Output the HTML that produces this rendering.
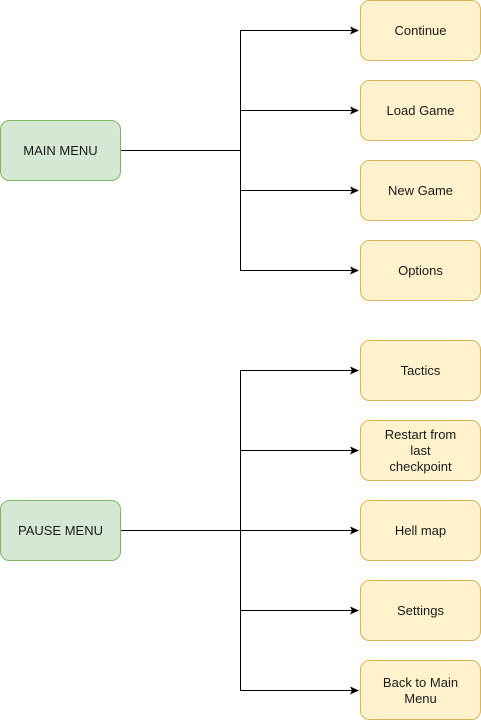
<!DOCTYPE html>
<html><head><meta charset="utf-8"><style>html,body{margin:0;padding:0;background:#fff}svg{display:block}</style></head>
<body>
<svg width="481" height="721" viewBox="0 0 481 721" xmlns="http://www.w3.org/2000/svg" font-family="Liberation Sans, Arial, sans-serif" font-size="13">
<defs><marker id="a" markerWidth="10" markerHeight="10" refX="8" refY="4" orient="auto" markerUnits="userSpaceOnUse"><path d="M0,0 L9,4 L0,8 L2,4 Z" fill="#000"/></marker></defs>
<g stroke="#000" stroke-width="1" fill="none">
<path d="M120.5,150.5 H240.5 V30.5 H358" marker-end="url(#a)"/>
<path d="M240.5,150.5 V110.5 H358" marker-end="url(#a)"/>
<path d="M240.5,150.5 V190.5 H358" marker-end="url(#a)"/>
<path d="M240.5,150.5 V270.5 H358" marker-end="url(#a)"/>
<path d="M120.5,530.5 H240.5 V370.5 H358" marker-end="url(#a)"/>
<path d="M240.5,530.5 V450.5 H358" marker-end="url(#a)"/>
<path d="M240.5,530.5 H358" marker-end="url(#a)"/>
<path d="M240.5,530.5 V610.5 H358" marker-end="url(#a)"/>
<path d="M240.5,530.5 V690.5 H358" marker-end="url(#a)"/>
</g>
<g fill="#d5e8d4" stroke="#82b366">
<rect x="0.5" y="120.5" width="120" height="60" rx="9"/>
<rect x="0.5" y="500.5" width="120" height="60" rx="9"/>
</g>
<g fill="#fff2cc" stroke="#d6b656">
<rect x="360.5" y="0.5" width="120" height="60" rx="9"/>
<rect x="360.5" y="80.5" width="120" height="60" rx="9"/>
<rect x="360.5" y="160.5" width="120" height="60" rx="9"/>
<rect x="360.5" y="240.5" width="120" height="60" rx="9"/>
<rect x="360.5" y="340.5" width="120" height="60" rx="9"/>
<rect x="360.5" y="420.5" width="120" height="60" rx="9"/>
<rect x="360.5" y="500.5" width="120" height="60" rx="9"/>
<rect x="360.5" y="580.5" width="120" height="60" rx="9"/>
<rect x="360.5" y="660.5" width="120" height="59" rx="9"/>
</g>
<g fill="#1a1a1a" text-anchor="middle">
<text x="60.5" y="155">MAIN MENU</text>
<text x="60.5" y="535">PAUSE MENU</text>
<text x="420.5" y="35">Continue</text>
<text x="420.5" y="115">Load Game</text>
<text x="420.5" y="195">New Game</text>
<text x="420.5" y="275">Options</text>
<text x="420.5" y="375">Tactics</text>
<text x="420.5" y="439">Restart from</text>
<text x="420.5" y="455">last</text>
<text x="420.5" y="471">checkpoint</text>
<text x="420.5" y="535">Hell map</text>
<text x="420.5" y="615">Settings</text>
<text x="420.5" y="687">Back to Main</text>
<text x="420.5" y="703">Menu</text>
</g>
</svg>
</body></html>
